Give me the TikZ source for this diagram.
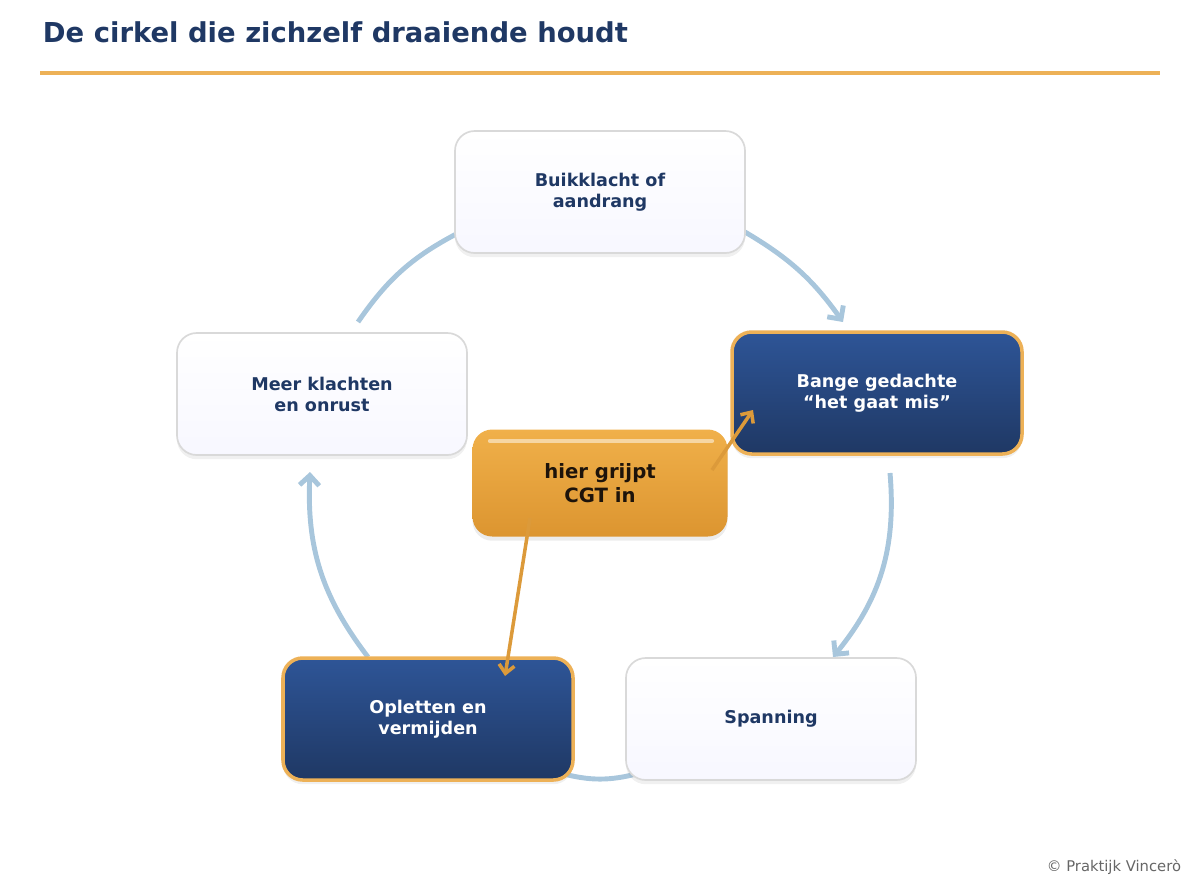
\documentclass[tikz,border=0pt]{standalone}
\usepackage{fontspec}
\setmainfont{DejaVu Sans}
\usetikzlibrary{shadows,arrows.meta}
\definecolor{navy}{HTML}{1F3864}
\definecolor{navytop}{HTML}{2E5597}
\definecolor{gold}{HTML}{EDB157}
\definecolor{goldtop}{HTML}{F0B04A}
\definecolor{goldbot}{HTML}{DC9530}
\definecolor{ring}{HTML}{A8C6DC}
\definecolor{arrowgold}{HTML}{DC9A3A}
\tikzset{
  stepbox/.style={rounded corners=14pt, draw=black!15, line width=1.2pt,
    top color=white, bottom color=blue!3, minimum width=290*0.025cm,
    minimum height=122*0.025cm, align=center, text=navy,
    font=\bfseries\fontsize{12.5}{15}\selectfont,
    drop shadow={opacity=0.12, shadow xshift=0pt, shadow yshift=-3pt}},
  hotbox/.style={stepbox, draw=gold, line width=2.5pt, top color=navytop,
    bottom color=navy, text=white},
  cgtbox/.style={rounded corners=14pt, minimum width=255*0.025cm,
    minimum height=107*0.025cm, align=center, top color=goldtop,
    bottom color=goldbot, text=black!85!brown,
    font=\bfseries\fontsize{14}{17}\selectfont,
    drop shadow={opacity=0.15, shadow xshift=0pt, shadow yshift=-3pt}},
  ringline/.style={ring, line width=3.5pt},
  ringarrow/.style={ringline, -{Straight Barb[length=7pt,width=14pt]}},
  link/.style={arrowgold, line width=2.5pt, -{Straight Barb[length=6pt,width=11pt]}}
}
\begin{document}
\begin{tikzpicture}[x=0.025cm, y=-0.025cm]
\useasboundingbox (0,0) rectangle (1200,889);
% title
\node[anchor=west, text=navy, font=\bfseries\fontsize{19.5}{22}\selectfont] (title) at (38,32) {De cirkel die zichzelf draaiende houdt};
\draw[gold, line width=2.5pt] (40,73) -- (1160,73);
% cycle connectors first, boxes on top
\coordinate (c1) at (745,232);
\coordinate (c2) at (843,322);
\coordinate (c3) at (890,473);
\coordinate (c4) at (833,657);
\coordinate (c5) at (640,773);
\coordinate (c6) at (560,773);
\coordinate (c7) at (368,657);
\coordinate (c8) at (310,472);
\coordinate (c9) at (358,322);
\coordinate (c10) at (460,232);
\draw[ringarrow] (c1) to[bend left=12] (c2);
\draw[ringarrow] (c3) to[bend left=22] (c4);
\draw[ringline] (c5) to[bend left=15] (c6);
\draw[ringarrow] (c7) to[bend left=20] (c8);
\draw[ringline] (c9) to[bend left=14] (c10);
% steps
\node[stepbox] (buik) at (600,192) {Buikklacht of\\aandrang};
\node[hotbox] (bang) at (877,393) {Bange gedachte\\“het gaat mis”};
\node[stepbox] (span) at (771,719) {Spanning};
\node[hotbox] (oplet) at (428,719) {Opletten en\\vermijden};
\node[stepbox] (meer) at (322,394) {Meer klachten\\en onrust};
\node[cgtbox] (cgt) at (600,483) {hier grijpt\\CGT in};
\draw[white, opacity=0.5, line width=3pt, line cap=round] (490,441) -- (712,441);
% interventions
\coordinate (i1) at (712,470);
\coordinate (i2) at (753,410);
\coordinate (i3) at (530,518);
\coordinate (i4) at (505,676);
\draw[link] (i1) -- (i2);
\draw[link] (i3) -- (i4);
\node[anchor=east, text=black!60, font=\fontsize{10.5}{12}\selectfont] (copy) at (1186,867) {© Praktijk Vincerò};
\end{tikzpicture}
\end{document}
